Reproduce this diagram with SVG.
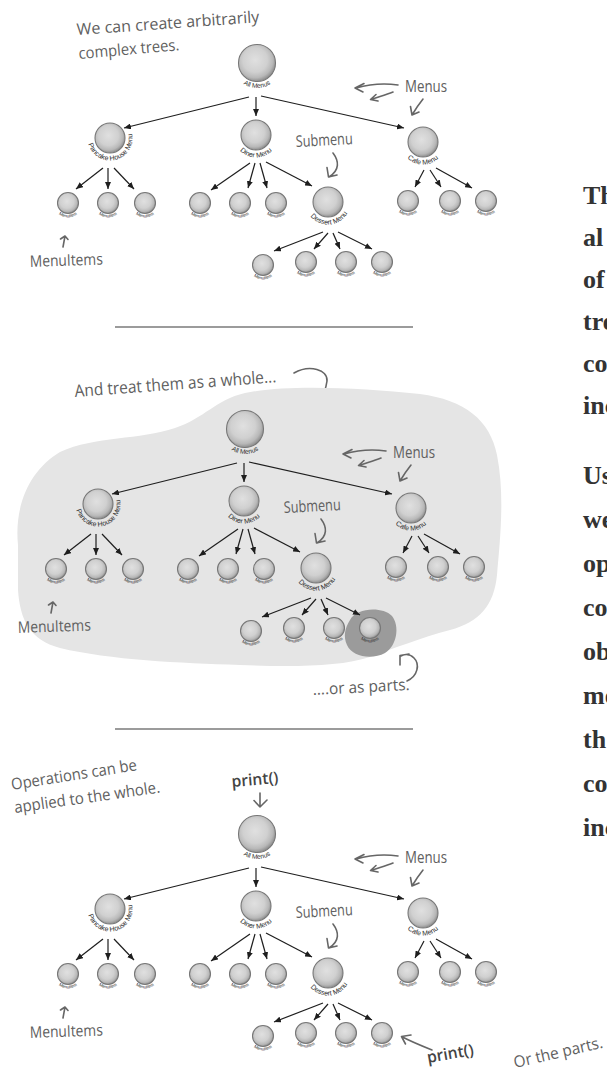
<svg xmlns="http://www.w3.org/2000/svg" width="607" height="1071" viewBox="0 0 607 1071">
<defs>
<radialGradient id="ball" cx="0.45" cy="0.42" r="0.6">
<stop offset="0" stop-color="#e0e0e0"/>
<stop offset="0.55" stop-color="#d0d0d0"/>
<stop offset="0.8" stop-color="#b8b8b8"/>
<stop offset="1" stop-color="#858585"/>
</radialGradient>
<marker id="ah" markerUnits="userSpaceOnUse" markerWidth="7" markerHeight="6" refX="7" refY="3" orient="auto" viewBox="0 0 7 6"><path d="M0,0 L7,3 L0,6 Z" fill="#1e1e1e"/></marker>
<path id="arcA" d="M-23.49,-8.55 A25,25 0 1 0 23.49,-8.55"/>
<path id="arcM" d="M-21.14,-7.7 A22.5,22.5 0 1 0 21.14,-7.7"/>
<path id="arcI" d="M-13.63,-4.96 A14.5,14.5 0 1 0 13.63,-4.96"/>
</defs>
<style>
.node circle{fill:url(#ball);stroke:#777;stroke-width:1.1}
.lbl{font-family:"Liberation Sans",Arial,sans-serif;fill:#2e2e2e}
.lA{font-size:6.6px}.lM{font-size:7px}.lI{font-size:4.4px}
.conn line{stroke:#1e1e1e;stroke-width:1.2;marker-end:url(#ah)}
.hand{font-family:"Open Sans",Lato,sans-serif;font-size:16px;fill:#606060}
.print{fill:#444;font-weight:600}
.harrow{fill:none;stroke:#666;stroke-width:1.6;stroke-linecap:round;stroke-linejoin:round}
.body{font-family:"Liberation Serif","Times New Roman",serif;font-weight:bold;font-size:26px;fill:#333}
.sep{stroke:#7a7a7a;stroke-width:1.4}
</style>
<rect width="607" height="1071" fill="#ffffff"/>

<!-- Section 1 caption -->
<g id="caption1">
<text class="hand" transform="translate(77,35) rotate(-4)" textLength="183" lengthAdjust="spacingAndGlyphs">We can create arbitrarily</text>
<text class="hand" transform="translate(79,59) rotate(-5)" textLength="101" lengthAdjust="spacingAndGlyphs">complex trees.</text>
</g>

<!-- Tree 1 -->
<g id="tree1">
<g class="conn" id="t1-connectors">
<line x1="249" y1="97" x2="124" y2="128"/>
<line x1="256" y1="97" x2="256" y2="116"/>
<line x1="261" y1="96" x2="404" y2="128"/>
<line x1="103" y1="168" x2="76" y2="189"/>
<line x1="108" y1="168" x2="108" y2="189"/>
<line x1="114" y1="168" x2="134" y2="189"/>
<line x1="250" y1="163" x2="211" y2="190"/>
<line x1="255" y1="163" x2="248" y2="188"/>
<line x1="260" y1="163" x2="267" y2="188"/>
<line x1="266" y1="162" x2="312" y2="186"/>
<line x1="424" y1="170" x2="415" y2="187"/>
<line x1="430" y1="170" x2="441" y2="187"/>
<line x1="436" y1="168" x2="472" y2="188"/>
<line x1="323" y1="232" x2="274" y2="251"/>
<line x1="328" y1="233" x2="314" y2="249"/>
<line x1="333" y1="233" x2="340" y2="249"/>
<line x1="338" y1="232" x2="372" y2="249"/>
</g>
<g id="t1-all" class="node" transform="translate(257,63)"><circle r="18.5"/><text class="lbl lA" text-anchor="middle"><textPath href="#arcA" startOffset="50%">All Menus</textPath></text></g>
<g id="t1-pancake" class="node" transform="translate(110,138)"><circle r="15"/><text class="lbl lM" text-anchor="middle"><textPath href="#arcM" startOffset="56%">Pancake House Menu</textPath></text></g>
<g id="t1-diner" class="node" transform="translate(256,135)"><circle r="15"/><text class="lbl lM" text-anchor="middle"><textPath href="#arcM" startOffset="50%">Diner Menu</textPath></text></g>
<g id="t1-cafe" class="node" transform="translate(423,142)"><circle r="15"/><text class="lbl lM" text-anchor="middle"><textPath href="#arcM" startOffset="50%">Cafe Menu</textPath></text></g>
<g id="t1-dessert" class="node" transform="translate(328,202)"><circle r="15"/><text class="lbl lM" text-anchor="middle"><textPath href="#arcM" startOffset="52%">Dessert Menu</textPath></text></g>
<g id="t1-p1" class="node" transform="translate(68,203)"><circle r="10.5"/><text class="lbl lI" text-anchor="middle"><textPath href="#arcI" startOffset="50%">MenuItem</textPath></text></g>
<g id="t1-p2" class="node" transform="translate(108,203)"><circle r="10.5"/><text class="lbl lI" text-anchor="middle"><textPath href="#arcI" startOffset="50%">MenuItem</textPath></text></g>
<g id="t1-p3" class="node" transform="translate(145,203)"><circle r="10.5"/><text class="lbl lI" text-anchor="middle"><textPath href="#arcI" startOffset="50%">MenuItem</textPath></text></g>
<g id="t1-d1" class="node" transform="translate(200,203)"><circle r="10.5"/><text class="lbl lI" text-anchor="middle"><textPath href="#arcI" startOffset="50%">MenuItem</textPath></text></g>
<g id="t1-d2" class="node" transform="translate(240,203)"><circle r="10.5"/><text class="lbl lI" text-anchor="middle"><textPath href="#arcI" startOffset="50%">MenuItem</textPath></text></g>
<g id="t1-d3" class="node" transform="translate(276,203)"><circle r="10.5"/><text class="lbl lI" text-anchor="middle"><textPath href="#arcI" startOffset="50%">MenuItem</textPath></text></g>
<g id="t1-c1" class="node" transform="translate(408,201)"><circle r="10.5"/><text class="lbl lI" text-anchor="middle"><textPath href="#arcI" startOffset="50%">MenuItem</textPath></text></g>
<g id="t1-c2" class="node" transform="translate(450,201)"><circle r="10.5"/><text class="lbl lI" text-anchor="middle"><textPath href="#arcI" startOffset="50%">MenuItem</textPath></text></g>
<g id="t1-c3" class="node" transform="translate(486,201)"><circle r="10.5"/><text class="lbl lI" text-anchor="middle"><textPath href="#arcI" startOffset="50%">MenuItem</textPath></text></g>
<g id="t1-s1" class="node" transform="translate(263,265)"><circle r="10.5"/><text class="lbl lI" text-anchor="middle"><textPath href="#arcI" startOffset="50%">MenuItem</textPath></text></g>
<g id="t1-s2" class="node" transform="translate(306,262)"><circle r="10.5"/><text class="lbl lI" text-anchor="middle"><textPath href="#arcI" startOffset="50%">MenuItem</textPath></text></g>
<g id="t1-s3" class="node" transform="translate(346,262)"><circle r="10.5"/><text class="lbl lI" text-anchor="middle"><textPath href="#arcI" startOffset="50%">MenuItem</textPath></text></g>
<g id="t1-s4" class="node" transform="translate(382,262)"><circle r="10.5"/><text class="lbl lI" text-anchor="middle"><textPath href="#arcI" startOffset="50%">MenuItem</textPath></text></g>
<g id="t1-notes">
<text class="hand" x="405" y="92" textLength="42" lengthAdjust="spacingAndGlyphs">Menus</text>
<path class="harrow" d="M398,85 C385,83 370,84 356,88 M364,83.5 L355,88 L363,92"/>
<path class="harrow" d="M393,92 C385,95 378,97 371,99.5 M376,94.5 L370.5,99.5 L378,101"/>
<path class="harrow" d="M423,99 C419,104 415,110 412,115 M410.5,106.5 L412,115 L419,112"/>
<text class="hand" transform="translate(296,147) rotate(-3)" textLength="57" lengthAdjust="spacingAndGlyphs">Submenu</text>
<path class="harrow" d="M333,153 C339,161 340,170 329,177 M327,167.5 L328.5,177 L337,175"/>
<text class="hand" transform="translate(30,267) rotate(-2)" textLength="73" lengthAdjust="spacingAndGlyphs">MenuItems</text>
<path class="harrow" d="M63,247 L65,236 M60.5,239 L65,236 L68,239.5"/>
</g>
</g>

<line class="sep" x1="115" y1="327" x2="413" y2="327"/>

<!-- Section 2 -->
<g id="caption2">
<text class="hand" style="font-size:17px" transform="translate(75,397) rotate(-4.2)" textLength="202" lengthAdjust="spacingAndGlyphs">And treat them as a whole...</text>
<path class="harrow" d="M294,373 C310,364 328,370 327,381 C326,390 322,397 317,403 M313,393 L317,403 L328,400"/>
</g>
<path id="whole-blob" d="M18,545 C14,505 30,470 60,452 C95,436 140,440 175,428 C205,418 215,400 245,393 C290,384 360,388 420,394 C465,400 490,420 497,455 C505,495 500,540 497,575 C494,605 480,622 450,630 C420,638 395,648 370,657 C340,667 290,667 240,665 C180,663 110,660 60,648 C30,640 20,620 18,590 Z" fill="#e5e5e5"/>
<path id="part-blob" d="M350,620 C356,608 382,606 392,616 C400,626 397,646 385,653 C372,660 352,657 347,645 C343,636 345,628 350,620 Z" fill="#9b9b9b"/>
<g id="tree2" transform="translate(-12,366)">
<g class="conn" id="t2-connectors">
<line x1="249" y1="97" x2="124" y2="128"/>
<line x1="256" y1="97" x2="256" y2="116"/>
<line x1="261" y1="96" x2="404" y2="128"/>
<line x1="103" y1="168" x2="76" y2="189"/>
<line x1="108" y1="168" x2="108" y2="189"/>
<line x1="114" y1="168" x2="134" y2="189"/>
<line x1="250" y1="163" x2="211" y2="190"/>
<line x1="255" y1="163" x2="248" y2="188"/>
<line x1="260" y1="163" x2="267" y2="188"/>
<line x1="266" y1="162" x2="312" y2="186"/>
<line x1="424" y1="170" x2="415" y2="187"/>
<line x1="430" y1="170" x2="441" y2="187"/>
<line x1="436" y1="168" x2="472" y2="188"/>
<line x1="323" y1="232" x2="274" y2="251"/>
<line x1="328" y1="233" x2="314" y2="249"/>
<line x1="333" y1="233" x2="340" y2="249"/>
<line x1="338" y1="232" x2="372" y2="249"/>
</g>
<g id="t2-all" class="node" transform="translate(257,63)"><circle r="18.5"/><text class="lbl lA" text-anchor="middle"><textPath href="#arcA" startOffset="50%">All Menus</textPath></text></g>
<g id="t2-pancake" class="node" transform="translate(110,138)"><circle r="15"/><text class="lbl lM" text-anchor="middle"><textPath href="#arcM" startOffset="56%">Pancake House Menu</textPath></text></g>
<g id="t2-diner" class="node" transform="translate(256,135)"><circle r="15"/><text class="lbl lM" text-anchor="middle"><textPath href="#arcM" startOffset="50%">Diner Menu</textPath></text></g>
<g id="t2-cafe" class="node" transform="translate(423,142)"><circle r="15"/><text class="lbl lM" text-anchor="middle"><textPath href="#arcM" startOffset="50%">Cafe Menu</textPath></text></g>
<g id="t2-dessert" class="node" transform="translate(328,202)"><circle r="15"/><text class="lbl lM" text-anchor="middle"><textPath href="#arcM" startOffset="52%">Dessert Menu</textPath></text></g>
<g id="t2-p1" class="node" transform="translate(68,203)"><circle r="10.5"/><text class="lbl lI" text-anchor="middle"><textPath href="#arcI" startOffset="50%">MenuItem</textPath></text></g>
<g id="t2-p2" class="node" transform="translate(108,203)"><circle r="10.5"/><text class="lbl lI" text-anchor="middle"><textPath href="#arcI" startOffset="50%">MenuItem</textPath></text></g>
<g id="t2-p3" class="node" transform="translate(145,203)"><circle r="10.5"/><text class="lbl lI" text-anchor="middle"><textPath href="#arcI" startOffset="50%">MenuItem</textPath></text></g>
<g id="t2-d1" class="node" transform="translate(200,203)"><circle r="10.5"/><text class="lbl lI" text-anchor="middle"><textPath href="#arcI" startOffset="50%">MenuItem</textPath></text></g>
<g id="t2-d2" class="node" transform="translate(240,203)"><circle r="10.5"/><text class="lbl lI" text-anchor="middle"><textPath href="#arcI" startOffset="50%">MenuItem</textPath></text></g>
<g id="t2-d3" class="node" transform="translate(276,203)"><circle r="10.5"/><text class="lbl lI" text-anchor="middle"><textPath href="#arcI" startOffset="50%">MenuItem</textPath></text></g>
<g id="t2-c1" class="node" transform="translate(408,201)"><circle r="10.5"/><text class="lbl lI" text-anchor="middle"><textPath href="#arcI" startOffset="50%">MenuItem</textPath></text></g>
<g id="t2-c2" class="node" transform="translate(450,201)"><circle r="10.5"/><text class="lbl lI" text-anchor="middle"><textPath href="#arcI" startOffset="50%">MenuItem</textPath></text></g>
<g id="t2-c3" class="node" transform="translate(486,201)"><circle r="10.5"/><text class="lbl lI" text-anchor="middle"><textPath href="#arcI" startOffset="50%">MenuItem</textPath></text></g>
<g id="t2-s1" class="node" transform="translate(263,265)"><circle r="10.5"/><text class="lbl lI" text-anchor="middle"><textPath href="#arcI" startOffset="50%">MenuItem</textPath></text></g>
<g id="t2-s2" class="node" transform="translate(306,262)"><circle r="10.5"/><text class="lbl lI" text-anchor="middle"><textPath href="#arcI" startOffset="50%">MenuItem</textPath></text></g>
<g id="t2-s3" class="node" transform="translate(346,262)"><circle r="10.5"/><text class="lbl lI" text-anchor="middle"><textPath href="#arcI" startOffset="50%">MenuItem</textPath></text></g>
<g id="t2-s4" class="node" transform="translate(382,262)"><circle r="10.5"/><text class="lbl lI" text-anchor="middle"><textPath href="#arcI" startOffset="50%">MenuItem</textPath></text></g>
<g id="t2-notes">
<text class="hand" x="405" y="92" textLength="42" lengthAdjust="spacingAndGlyphs">Menus</text>
<path class="harrow" d="M398,85 C385,83 370,84 356,88 M364,83.5 L355,88 L363,92"/>
<path class="harrow" d="M393,92 C385,95 378,97 371,99.5 M376,94.5 L370.5,99.5 L378,101"/>
<path class="harrow" d="M423,99 C419,104 415,110 412,115 M410.5,106.5 L412,115 L419,112"/>
<text class="hand" transform="translate(296,147) rotate(-3)" textLength="57" lengthAdjust="spacingAndGlyphs">Submenu</text>
<path class="harrow" d="M333,153 C339,161 340,170 329,177 M327,167.5 L328.5,177 L337,175"/>
<text class="hand" transform="translate(30,267) rotate(-2)" textLength="73" lengthAdjust="spacingAndGlyphs">MenuItems</text>
<path class="harrow" d="M63,247 L65,236 M60.5,239 L65,236 L68,239.5"/>
</g>
</g>
<g id="caption2b">
<text class="hand" transform="translate(313,695) rotate(-3)" textLength="97" lengthAdjust="spacingAndGlyphs">....or as parts.</text>
<path class="harrow" d="M407,681 C418,676 420,664 414,658 C410,654 405,654 401,656 M400,665 L400,655.5 L409,654"/>
</g>

<line class="sep" x1="115" y1="729" x2="413" y2="729"/>

<!-- Section 3 -->
<g id="caption3">
<text class="hand" transform="translate(12,790) rotate(-9)" textLength="127" lengthAdjust="spacingAndGlyphs">Operations can be</text>
<text class="hand" transform="translate(15,813) rotate(-8)" textLength="147" lengthAdjust="spacingAndGlyphs">applied to the whole.</text>
<text class="hand print" transform="translate(232,787) rotate(-5)" textLength="47" lengthAdjust="spacingAndGlyphs">print()</text>
<path class="harrow" d="M260,793 L260,807 M254,800.5 L260,807 L267,800"/>
</g>
<g id="tree3" transform="translate(0,771)">
<g class="conn" id="t3-connectors">
<line x1="249" y1="97" x2="124" y2="128"/>
<line x1="256" y1="97" x2="256" y2="116"/>
<line x1="261" y1="96" x2="404" y2="128"/>
<line x1="103" y1="168" x2="76" y2="189"/>
<line x1="108" y1="168" x2="108" y2="189"/>
<line x1="114" y1="168" x2="134" y2="189"/>
<line x1="250" y1="163" x2="211" y2="190"/>
<line x1="255" y1="163" x2="248" y2="188"/>
<line x1="260" y1="163" x2="267" y2="188"/>
<line x1="266" y1="162" x2="312" y2="186"/>
<line x1="424" y1="170" x2="415" y2="187"/>
<line x1="430" y1="170" x2="441" y2="187"/>
<line x1="436" y1="168" x2="472" y2="188"/>
<line x1="323" y1="232" x2="274" y2="251"/>
<line x1="328" y1="233" x2="314" y2="249"/>
<line x1="333" y1="233" x2="340" y2="249"/>
<line x1="338" y1="232" x2="372" y2="249"/>
</g>
<g id="t3-all" class="node" transform="translate(257,63)"><circle r="18.5"/><text class="lbl lA" text-anchor="middle"><textPath href="#arcA" startOffset="50%">All Menus</textPath></text></g>
<g id="t3-pancake" class="node" transform="translate(110,138)"><circle r="15"/><text class="lbl lM" text-anchor="middle"><textPath href="#arcM" startOffset="56%">Pancake House Menu</textPath></text></g>
<g id="t3-diner" class="node" transform="translate(256,135)"><circle r="15"/><text class="lbl lM" text-anchor="middle"><textPath href="#arcM" startOffset="50%">Diner Menu</textPath></text></g>
<g id="t3-cafe" class="node" transform="translate(423,142)"><circle r="15"/><text class="lbl lM" text-anchor="middle"><textPath href="#arcM" startOffset="50%">Cafe Menu</textPath></text></g>
<g id="t3-dessert" class="node" transform="translate(328,202)"><circle r="15"/><text class="lbl lM" text-anchor="middle"><textPath href="#arcM" startOffset="52%">Dessert Menu</textPath></text></g>
<g id="t3-p1" class="node" transform="translate(68,203)"><circle r="10.5"/><text class="lbl lI" text-anchor="middle"><textPath href="#arcI" startOffset="50%">MenuItem</textPath></text></g>
<g id="t3-p2" class="node" transform="translate(108,203)"><circle r="10.5"/><text class="lbl lI" text-anchor="middle"><textPath href="#arcI" startOffset="50%">MenuItem</textPath></text></g>
<g id="t3-p3" class="node" transform="translate(145,203)"><circle r="10.5"/><text class="lbl lI" text-anchor="middle"><textPath href="#arcI" startOffset="50%">MenuItem</textPath></text></g>
<g id="t3-d1" class="node" transform="translate(200,203)"><circle r="10.5"/><text class="lbl lI" text-anchor="middle"><textPath href="#arcI" startOffset="50%">MenuItem</textPath></text></g>
<g id="t3-d2" class="node" transform="translate(240,203)"><circle r="10.5"/><text class="lbl lI" text-anchor="middle"><textPath href="#arcI" startOffset="50%">MenuItem</textPath></text></g>
<g id="t3-d3" class="node" transform="translate(276,203)"><circle r="10.5"/><text class="lbl lI" text-anchor="middle"><textPath href="#arcI" startOffset="50%">MenuItem</textPath></text></g>
<g id="t3-c1" class="node" transform="translate(408,201)"><circle r="10.5"/><text class="lbl lI" text-anchor="middle"><textPath href="#arcI" startOffset="50%">MenuItem</textPath></text></g>
<g id="t3-c2" class="node" transform="translate(450,201)"><circle r="10.5"/><text class="lbl lI" text-anchor="middle"><textPath href="#arcI" startOffset="50%">MenuItem</textPath></text></g>
<g id="t3-c3" class="node" transform="translate(486,201)"><circle r="10.5"/><text class="lbl lI" text-anchor="middle"><textPath href="#arcI" startOffset="50%">MenuItem</textPath></text></g>
<g id="t3-s1" class="node" transform="translate(263,265)"><circle r="10.5"/><text class="lbl lI" text-anchor="middle"><textPath href="#arcI" startOffset="50%">MenuItem</textPath></text></g>
<g id="t3-s2" class="node" transform="translate(306,262)"><circle r="10.5"/><text class="lbl lI" text-anchor="middle"><textPath href="#arcI" startOffset="50%">MenuItem</textPath></text></g>
<g id="t3-s3" class="node" transform="translate(346,262)"><circle r="10.5"/><text class="lbl lI" text-anchor="middle"><textPath href="#arcI" startOffset="50%">MenuItem</textPath></text></g>
<g id="t3-s4" class="node" transform="translate(382,262)"><circle r="10.5"/><text class="lbl lI" text-anchor="middle"><textPath href="#arcI" startOffset="50%">MenuItem</textPath></text></g>
<g id="t3-notes">
<text class="hand" x="405" y="92" textLength="42" lengthAdjust="spacingAndGlyphs">Menus</text>
<path class="harrow" d="M398,85 C385,83 370,84 356,88 M364,83.5 L355,88 L363,92"/>
<path class="harrow" d="M393,92 C385,95 378,97 371,99.5 M376,94.5 L370.5,99.5 L378,101"/>
<path class="harrow" d="M423,99 C419,104 415,110 412,115 M410.5,106.5 L412,115 L419,112"/>
<text class="hand" transform="translate(296,147) rotate(-3)" textLength="57" lengthAdjust="spacingAndGlyphs">Submenu</text>
<path class="harrow" d="M333,153 C339,161 340,170 329,177 M327,167.5 L328.5,177 L337,175"/>
<text class="hand" transform="translate(30,267) rotate(-2)" textLength="73" lengthAdjust="spacingAndGlyphs">MenuItems</text>
<path class="harrow" d="M63,247 L65,236 M60.5,239 L65,236 L68,239.5"/>
</g>
</g>
<g id="caption3b">
<text class="hand print" transform="translate(428,1063) rotate(-10)" textLength="47" lengthAdjust="spacingAndGlyphs">print()</text>
<path class="harrow" d="M432,1050 C422,1046 410,1041 401.5,1036.5 M411,1035 L401.5,1036.5 L405.5,1044"/>
<text class="hand" transform="translate(515,1068) rotate(-13)" textLength="91" lengthAdjust="spacingAndGlyphs">Or the parts.</text>
</g>

<!-- Right column body text (cut at page edge, as in the reference) -->
<g id="body-text" class="body">
<text x="583" y="204">Th</text>
<text x="583" y="246">al</text>
<text x="583" y="288">of</text>
<text x="583" y="330">tre</text>
<text x="583" y="372">co</text>
<text x="583" y="414">inc</text>
<text x="583" y="484">Us</text>
<text x="583" y="528">we</text>
<text x="583" y="572">op</text>
<text x="583" y="616">co</text>
<text x="583" y="660">ob</text>
<text x="583" y="704">mo</text>
<text x="583" y="748">th</text>
<text x="583" y="792">co</text>
<text x="583" y="836">inc</text>
</g>
</svg>
